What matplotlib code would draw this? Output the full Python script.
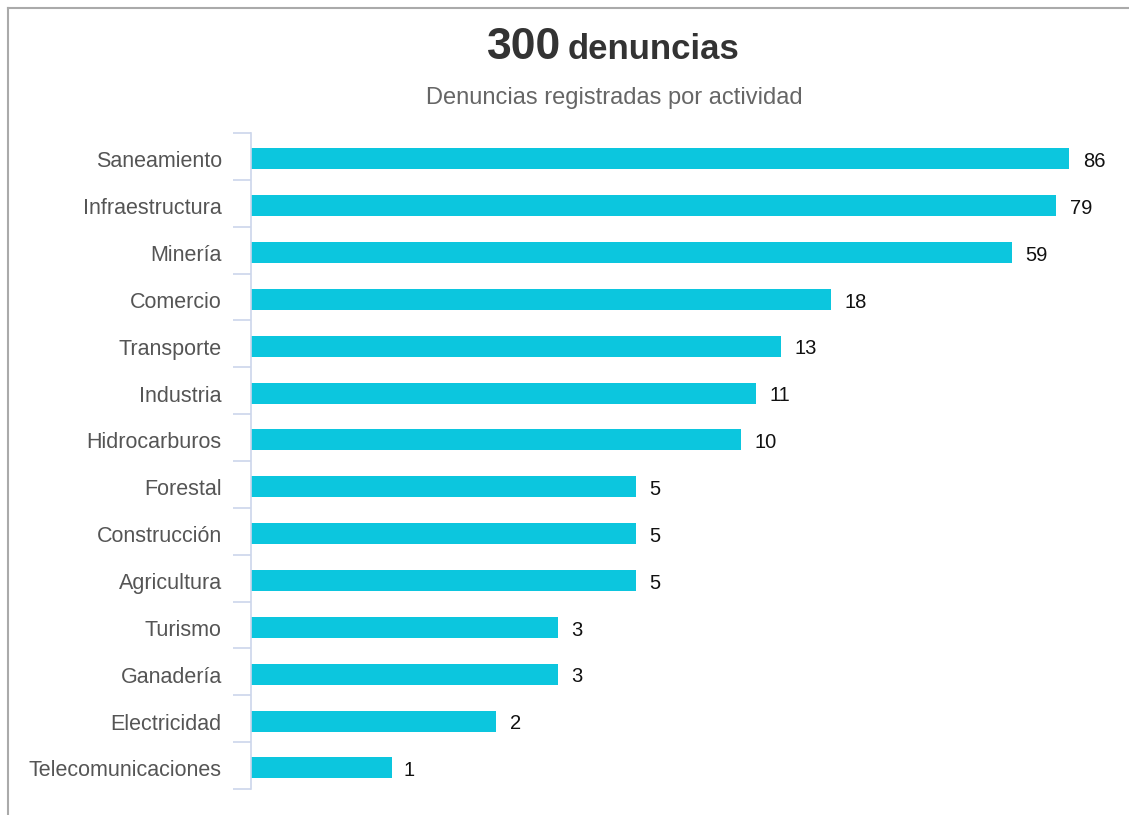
import numpy as np
import matplotlib
matplotlib.use("Agg")
import matplotlib.pyplot as plt
from matplotlib.lines import Line2D

plt.rcParams['font.family'] = ['Liberation Sans', 'DejaVu Sans']

# datos
actividades = ['Saneamiento', 'Infraestructura', 'Minería', 'Comercio', 'Transporte',
               'Industria', 'Hidrocarburos', 'Forestal', 'Construcción', 'Agricultura',
               'Turismo', 'Ganadería', 'Electricidad', 'Telecomunicaciones']
denuncias = [86, 79, 59, 18, 13, 11, 10, 5, 5, 5, 3, 3, 2, 1]
total = 300

W, H = 1129, 815
fig = plt.figure(figsize=(W / 100, H / 100), dpi=100)
fig.patch.set_facecolor('white')

# area del grafico (en pixeles de la figura)
x0, x1 = 251, 1092
y0, y1 = 133, 789
ax = fig.add_axes([x0 / W, 1 - y1 / H, (x1 - x0) / W, (y1 - y0) / H])

pos = np.arange(len(actividades))
ax.barh(pos + 0.05, denuncias, height=0.45, color='#0cc6de', left=0.01)
ax.set_xscale('log')
ax.set_xlim(10 ** -0.396, 100)
ax.set_ylim(len(actividades) - 0.5, -0.5)

for p, v in zip(pos, denuncias):
    ax.annotate(str(v), (v, p + 0.05), xytext=(10, -2), textcoords='offset points',
                ha='left', va='center', fontsize=14.5, color='#111111')

for s in ['top', 'right', 'bottom']:
    ax.spines[s].set_visible(False)
ax.spines['left'].set_color('#ccd6eb')
ax.spines['left'].set_linewidth(1.2)
ax.xaxis.set_visible(False)

ax.set_yticks(pos + 0.06)
ax.set_yticklabels(actividades, fontsize=15.5, color='#555555')
ax.tick_params(axis='y', which='major', length=0, pad=21)
ax.set_yticks(np.arange(-0.5, len(actividades), 1.0), minor=True)
ax.tick_params(axis='y', which='minor', length=13, color='#ccd6eb', width=1.2)

# titulo y subtitulo
fig.text(561 / W, 1 - 59 / H, '300', fontsize=32, fontweight='bold', color='#333333',
         ha='right', va='baseline')
fig.text(568 / W, 1 - 59 / H, 'denuncias', fontsize=25, fontweight='bold', color='#333333',
         ha='left', va='baseline')
fig.text(614 / W, 1 - 104 / H, 'Denuncias registradas por actividad', fontsize=17,
         color='#666666', ha='center', va='baseline')

# borde del contenedor
fig.add_artist(Line2D([8 / W, 8 / W], [0, 1 - 8 / H], color='#aaaaaa', lw=1.5))
fig.add_artist(Line2D([8 / W, 1], [1 - 8 / H, 1 - 8 / H], color='#aaaaaa', lw=1.5))

fig.savefig('out.png', dpi=100)
